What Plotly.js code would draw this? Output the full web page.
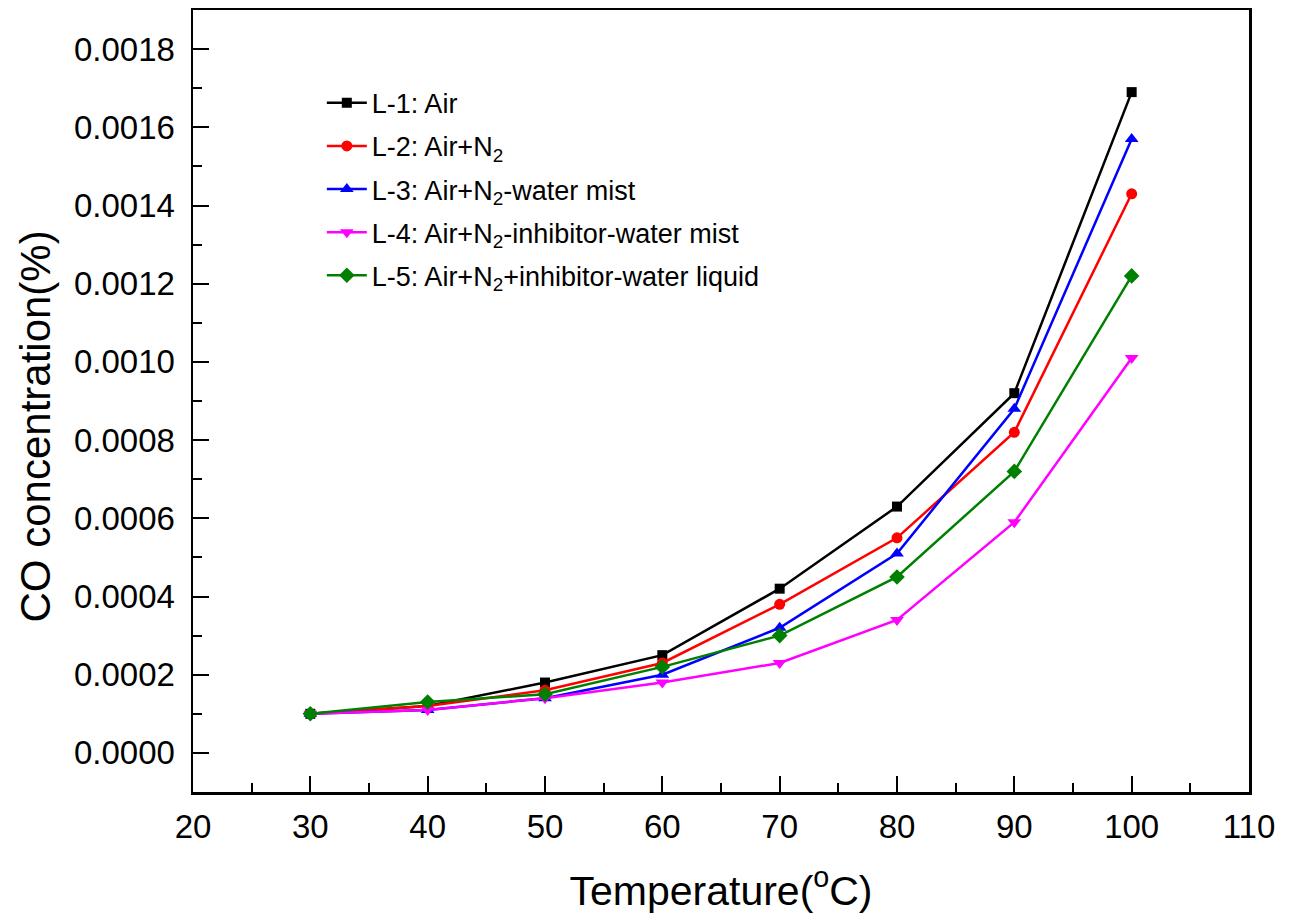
<!DOCTYPE html>
<html>
<head>
<meta charset="utf-8">
<script src="https://cdn.plot.ly/plotly-3.0.1.min.js"></script>
<style>
  html, body { margin: 0; padding: 0; background: #ffffff; }
  #chart { width: 1294px; height: 915px; }
</style>
</head>
<body>
<div id="chart"></div>
<script>
// Temperature steps (°C)
const temperature = [30, 40, 50, 60, 70, 80, 90, 100];

// CO concentration (%) for each test condition
const coAir = [0.00010, 0.00012, 0.00018, 0.00025, 0.00042, 0.00063, 0.00092, 0.00169];
const coAirN2 = [0.00010, 0.00012, 0.00016, 0.00023, 0.00038, 0.00055, 0.00082, 0.00143];
const coAirN2Mist = [0.00010, 0.00011, 0.00014, 0.00020, 0.00032, 0.00051, 0.00088, 0.00157];
const coAirN2InhibitorMist = [0.00010, 0.00011, 0.00014, 0.00018, 0.00023, 0.00034, 0.00059, 0.00101];
const coAirN2InhibitorLiquid = [0.00010, 0.00013, 0.00015, 0.00022, 0.00030, 0.00045, 0.00072, 0.00122];

const seriesNames = [
  'L-1: Air',
  'L-2: Air+N<sub>2</sub>',
  'L-3: Air+N<sub>2</sub>-water mist',
  'L-4: Air+N<sub>2</sub>-inhibitor-water mist',
  'L-5: Air+N<sub>2</sub>+inhibitor-water liquid'
];
const seriesValues = [coAir, coAirN2, coAirN2Mist, coAirN2InhibitorMist, coAirN2InhibitorLiquid];
const seriesColors = ['#000000', '#ff0000', '#0000ff', '#ff00ff', '#008000'];
const seriesSymbols = ['square', 'circle', 'triangle-up', 'triangle-down', 'diamond'];
const markerSizes = [10, 11, 12, 12, 12];

const traces = seriesValues.map((vals, i) => ({
  type: 'scatter',
  mode: 'lines+markers',
  x: temperature,
  y: vals,
  name: seriesNames[i],
  legendgroup: 'g' + i,
  line: { color: seriesColors[i], width: 2.5 },
  marker: { color: seriesColors[i], symbol: seriesSymbols[i], size: markerSizes[i] }
}));

const FONT = '"Liberation Sans", Arial, sans-serif';
const axisFont = { family: FONT, size: 33, color: '#000' };
const titleFont = { family: FONT, size: 41, color: '#000' };

const layout = {
  width: 1294,
  height: 915,
  paper_bgcolor: '#ffffff',
  plot_bgcolor: '#ffffff',
  margin: { l: 193, r: 45, t: 10, b: 123 },
  font: { family: FONT, color: '#000' },
  showlegend: true,
  legend: {
    x: 0.122, y: 0.912, xanchor: 'left', yanchor: 'top',
    bgcolor: 'rgba(0,0,0,0)',
    font: { family: FONT, size: 27, color: '#000' },
    tracegroupgap: 5,
    itemwidth: 40
  },
  xaxis: {
    range: [20, 110],
    dtick: 10,
    tick0: 20,
    ticks: 'inside',
    ticklen: 16,
    tickwidth: 2,
    tickcolor: '#000',
    minor: { dtick: 5, ticks: 'inside', ticklen: 9, tickwidth: 2, tickcolor: '#000' },
    showline: true,
    linewidth: 2.5,
    linecolor: '#000',
    mirror: true,
    showgrid: false,
    zeroline: false,
    tickfont: axisFont,
    ticklabelstandoff: 4,
    title: { text: 'Temperature(<sup>o</sup>C)', font: titleFont, standoff: 32 }
  },
  yaxis: {
    range: [-0.0001, 0.0019],
    dtick: 0.0002,
    tick0: 0,
    tickformat: '.4f',
    ticks: 'inside',
    ticklen: 16,
    tickwidth: 2,
    tickcolor: '#000',
    minor: { dtick: 0.0001, ticks: 'inside', ticklen: 9, tickwidth: 2, tickcolor: '#000' },
    showline: true,
    linewidth: 2.5,
    linecolor: '#000',
    mirror: true,
    showgrid: false,
    zeroline: false,
    tickfont: axisFont,
    ticklabelstandoff: 9
  },
  // vertical axis title, set slightly below the plot's mid-height
  annotations: [{
    text: 'CO concentration(%)',
    xref: 'paper', yref: 'paper',
    x: -0.149, y: 0.467,
    xanchor: 'center', yanchor: 'middle',
    textangle: -90,
    showarrow: false,
    font: { family: FONT, size: 42, color: '#000' }
  }]
};

Plotly.newPlot('chart', traces, layout, { displayModeBar: false, staticPlot: true });
</script>
</body>
</html>
